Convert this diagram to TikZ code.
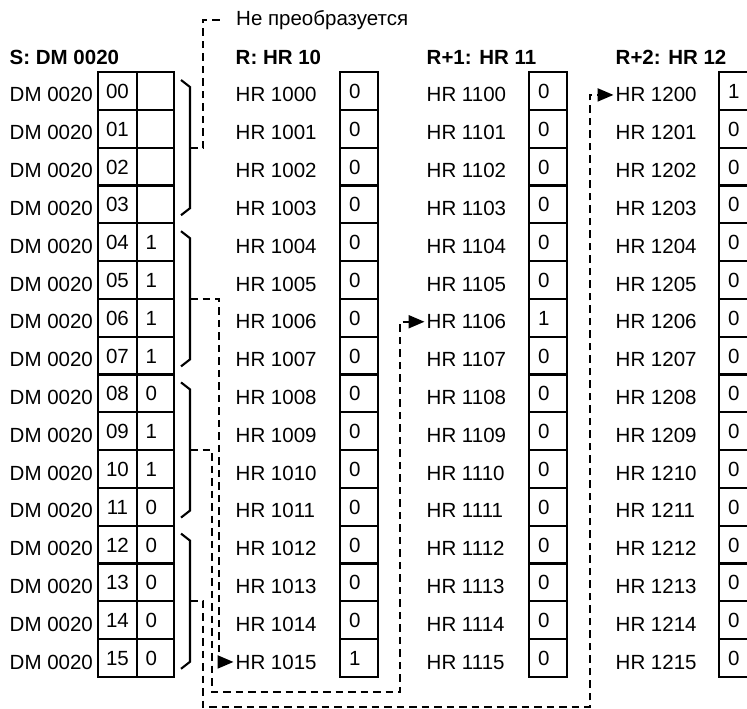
\documentclass[tikz,border=0pt]{standalone}
\usepackage{fontspec}
\setmainfont{Liberation Sans}
\usetikzlibrary{arrows.meta}
\tikzset{
  txt/.style={inner sep=0pt,font=\fontsize{20.5}{24}\selectfont},
  ttl/.style={txt,font=\fontsize{20.5}{24}\selectfont\bfseries,anchor=base west},
  rowLbl/.style={txt,anchor=base west},
  cellA/.style={txt,draw,line width=2.2pt,minimum height=37.8pt,text height=15pt,text depth=0pt},
  numCell/.style={cellA,minimum width=39pt},
  valCell/.style={cellA,minimum width=38pt,text width=20pt,align=left},
  brk/.style={line width=2.1pt},
  lead/.style={line width=2.1pt,dash pattern=on 7.5pt off 5pt},
  leadArrow/.style={lead,-{Triangle[length=16pt,width=13pt]},shorten >=2pt},
}
\begin{document}
\begin{tikzpicture}[x=1pt,y=-1pt]
\useasboundingbox (0,0) rectangle (747,709);
\clip (0,0) rectangle (747,709);
\node[ttl] (tS) at (9.5,65) {S: DM 0020};
\node[ttl] (tR) at (235.5,65) {R: HR 10};
\node[ttl] (tR1) at (426.5,65) {R+1: HR 11};
\node[ttl] (tR2) at (615.5,65) {R+2: HR 12};
\node[rowLbl] (note) at (236,26) {Не преобразуется};
\foreach \i/\sv/\av/\bv/\cv in {0/{}/0/0/1, 1/{}/0/0/0, 2/{}/0/0/0, 3/{}/0/0/0,
    4/1/0/0/0, 5/1/0/0/0, 6/1/0/1/0, 7/1/0/0/0, 8/0/0/0/0, 9/1/0/0/0,
    10/1/0/0/0, 11/0/0/0/0, 12/0/0/0/0, 13/0/0/0/0, 14/0/0/0/0, 15/0/1/0/0}{
  \node[rowLbl] (dl\i) at (9.5,{102+37.8*\i}) {DM 0020};
  \node[numCell] (sn\i) at (117.5,{90.9+37.8*\i}) {\ifnum\i<10 0\fi\i};
  \node[valCell,minimum width=37pt] (sv\i) at (155.5,{90.9+37.8*\i}) {\sv};
  \node[rowLbl] (al\i) at (235.5,{102+37.8*\i}) {HR 10\ifnum\i<10 0\fi\i};
  \node[valCell] (a\i) at (359,{90.9+37.8*\i}) {\av};
  \node[rowLbl] (bl\i) at (426.5,{102+37.8*\i}) {HR 11\ifnum\i<10 0\fi\i};
  \node[valCell] (b\i) at (548,{90.9+37.8*\i}) {\bv};
  \node[rowLbl] (cl\i) at (615.5,{102+37.8*\i}) {HR 12\ifnum\i<10 0\fi\i};
  \node[valCell] (c\i) at (738,{90.9+37.8*\i}) {\cv};
}
\foreach \g in {0,...,3}{
  \draw[brk] (181,{80+151.2*\g}) -- (190,{87+151.2*\g}) -- (190,{208.2+151.2*\g}) -- (181,{215.2+151.2*\g});
  \coordinate (g\g) at (190,{147.6+151.2*\g});
}
\draw[lead] (g0) -- (203,147.6) |- ([xshift=-15pt,yshift=6pt]note.base west);
\draw[leadArrow] (g1) -- (219,298.8) |- (al15.west);
\draw[leadArrow] (g2) -- (212,450) -- (212,692) -- (400,692) |- (bl6.west);
\draw[leadArrow] (g3) -- (203,601.2) -- (203,707) -- (590,707) |- (cl0.west);
\end{tikzpicture}
\end{document}
